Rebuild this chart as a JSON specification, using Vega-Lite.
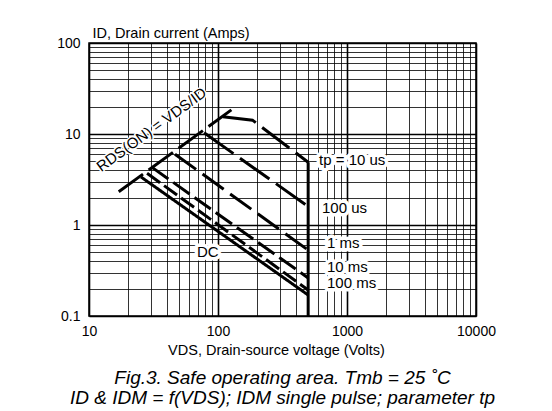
{
  "$schema": "https://vega.github.io/schema/vega-lite/v6.json",
  "width": 387,
  "height": 273,
  "autosize": {"type": "none"},
  "padding": {"left": 89, "top": 43, "right": 76, "bottom": 95},
  "background": "white",
  "config": {
    "font": "Liberation Sans",
    "view": {"stroke": "black", "strokeWidth": 1.5},
    "axis": {"labelColor": "black", "titleColor": "black", "titleFontWeight": "normal", "labelFont": "Liberation Sans", "titleFont": "Liberation Sans"}
  },
  "title": {
    "text": ["Fig.3.  Safe operating area. Tmb = 25 ˚C", "ID & IDM = f(VDS); IDM single pulse; parameter tp"],
    "orient": "bottom",
    "anchor": "middle",
    "frame": "group",
    "font": "Liberation Sans",
    "fontSize": 19,
    "fontStyle": "italic",
    "fontWeight": "normal",
    "color": "black",
    "lineHeight": 20,
    "offset": 12
  },
  "datasets": {
    "curves": [
      {"series": "RDS", "vds": 17.0, "id": 2.32},
      {"series": "RDS", "vds": 127, "id": 18.4},
      {"series": "10 us", "vds": 109, "id": 15.5},
      {"series": "10 us", "vds": 185, "id": 14.2},
      {"series": "10 us", "vds": 500, "id": 4.9},
      {"series": "limit", "vds": 500, "id": 4.9},
      {"series": "limit", "vds": 500, "id": 0.1},
      {"series": "100 us", "vds": 78, "id": 10.3},
      {"series": "100 us", "vds": 500, "id": 1.6},
      {"series": "1 ms", "vds": 46.4, "id": 6.0},
      {"series": "1 ms", "vds": 500, "id": 0.53},
      {"series": "10 ms", "vds": 30.8, "id": 4.3},
      {"series": "10 ms", "vds": 500, "id": 0.262},
      {"series": "100 ms", "vds": 28.2, "id": 3.7},
      {"series": "100 ms", "vds": 500, "id": 0.193},
      {"series": "DC", "vds": 25.3, "id": 3.37},
      {"series": "DC", "vds": 500, "id": 0.17}
    ],
    "labels": [
      {"label": "tp = 10 us", "vds": 607, "id": 5.17},
      {"label": "100 us", "vds": 640, "id": 1.54},
      {"label": "1 ms", "vds": 700, "id": 0.634},
      {"label": "10 ms", "vds": 700, "id": 0.345},
      {"label": "100 ms", "vds": 700, "id": 0.231},
      {"label": "DC", "vds": 68.7, "id": 0.505}
    ],
    "rds": [
      {"label": "RDS(ON) = VDS/ID", "vds": 30.5, "id": 11.2}
    ]
  },
  "encoding": {
    "x": {
      "field": "vds", "type": "quantitative",
      "scale": {"type": "log", "domain": [10, 10000], "nice": false},
      "axis": {
        "title": "VDS, Drain-source voltage (Volts)",
        "titleFontSize": 14.5,
        "titlePadding": 5,
        "titleX": 187,
        "labelFontSize": 14,
        "labelPadding": 8,
        "labelFlush": false,
        "labelOverlap": false,
        "ticks": false,
        "domain": false,
        "values": [10,20,30,40,50,60,70,80,90,100,200,300,400,500,600,700,800,900,1000,2000,3000,4000,5000,6000,7000,8000,9000,10000],
        "format": "~g",
        "labelExpr": "abs(log(datum.value)/LN10 - round(log(datum.value)/LN10)) < 0.000001 ? datum.label : ''",
        "grid": true,
        "gridColor": "black",
        "gridOpacity": {"condition": {"test": "abs(log(datum.value)/LN10 - round(log(datum.value)/LN10)) < 0.000001", "value": 1}, "value": 0.8},
        "gridWidth": {"condition": {"test": "abs(log(datum.value)/LN10 - round(log(datum.value)/LN10)) < 0.000001", "value": 1.6}, "value": 1}
      }
    },
    "y": {
      "field": "id", "type": "quantitative",
      "scale": {"type": "log", "domain": [0.1, 100], "nice": false},
      "axis": {
        "title": "ID, Drain current (Amps)",
        "titleFontSize": 14.5,
        "titleAngle": 0,
        "titleAlign": "left",
        "titleBaseline": "middle",
        "titleX": 3,
        "titleY": -10,
        "labelFontSize": 14,
        "labelPadding": 9,
        "labelOverlap": false,
        "ticks": false,
        "domain": false,
        "values": [0.1,0.2,0.3,0.4,0.5,0.6,0.7,0.8,0.9,1,2,3,4,5,6,7,8,9,10,20,30,40,50,60,70,80,90,100],
        "format": "~g",
        "labelExpr": "abs(log(datum.value)/LN10 - round(log(datum.value)/LN10)) < 0.000001 ? datum.label : ''",
        "grid": true,
        "gridColor": "black",
        "gridOpacity": {"condition": {"test": "abs(log(datum.value)/LN10 - round(log(datum.value)/LN10)) < 0.000001", "value": 1}, "value": 0.8},
        "gridWidth": {"condition": {"test": "abs(log(datum.value)/LN10 - round(log(datum.value)/LN10)) < 0.000001", "value": 1.6}, "value": 1}
      }
    }
  },
  "layer": [
    {
      "data": {"name": "rds"},
      "mark": {"type": "text", "align": "center", "baseline": "middle", "fontSize": 15, "angle": -36, "color": "white", "stroke": "white", "strokeWidth": 3, "strokeJoin": "round", "font": "Liberation Sans"},
      "encoding": {"text": {"field": "label"}}
    },
    {
      "data": {"name": "curves"},
      "mark": {"type": "line", "color": "black", "strokeWidth": 3, "strokeCap": "butt"},
      "encoding": {
        "detail": {"field": "series"},
        "strokeDash": {
          "field": "series", "type": "nominal", "legend": null,
          "scale": {
            "domain": ["RDS", "10 us", "limit", "100 us", "1 ms", "10 ms", "100 ms", "DC"],
            "range": [[30, 7], [34, 8], [1, 0], [36, 8], [26, 8], [20, 6], [16, 5], [1, 0]]
          }
        }
      }
    },
    {
      "data": {"name": "labels"},
      "mark": {"type": "text", "align": "left", "baseline": "middle", "fontSize": 15, "color": "white", "stroke": "white", "strokeWidth": 7, "strokeJoin": "round", "font": "Liberation Sans"},
      "encoding": {"text": {"field": "label"}}
    },
    {
      "data": {"name": "labels"},
      "mark": {"type": "text", "align": "left", "baseline": "middle", "fontSize": 15, "color": "black", "font": "Liberation Sans"},
      "encoding": {"text": {"field": "label"}}
    },
    {
      "data": {"name": "rds"},
      "mark": {"type": "text", "align": "center", "baseline": "middle", "fontSize": 15, "angle": -36, "color": "black", "font": "Liberation Sans"},
      "encoding": {"text": {"field": "label"}}
    }
  ]
}
